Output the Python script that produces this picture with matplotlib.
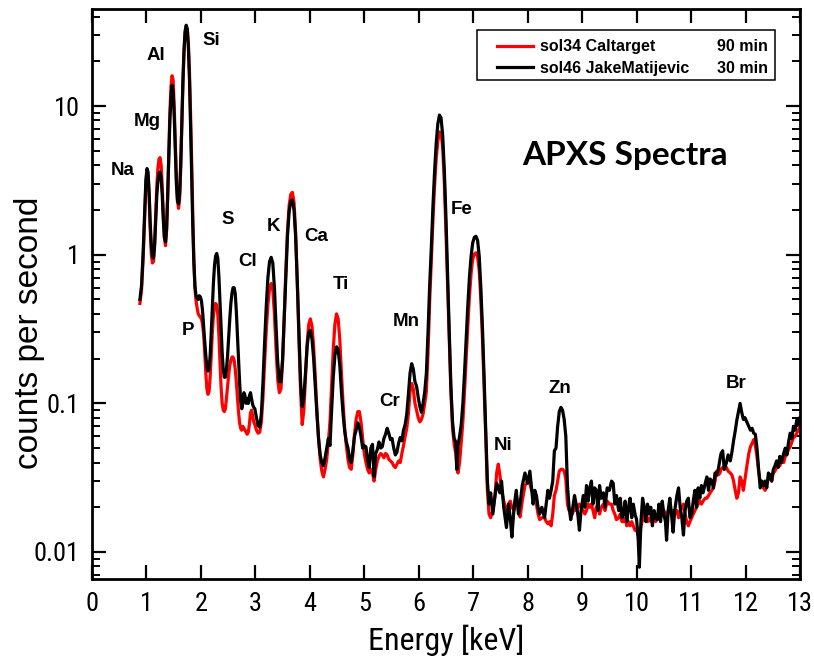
import matplotlib
matplotlib.use("Agg")
import matplotlib.pyplot as plt
from matplotlib.ticker import FixedLocator, FixedFormatter, LogLocator, NullFormatter
from matplotlib.patches import Rectangle
from matplotlib import font_manager

# spectrum channels (keV) and count rates for the two targets
energy = [
    0.88, 0.91, 0.94, 0.97, 0.99, 1.01, 1.03, 1.05, 1.07, 1.09, 1.11, 1.13, 1.15, 1.17, 1.19, 1.21,
    1.23, 1.25, 1.27, 1.29, 1.31, 1.33, 1.35, 1.37, 1.39, 1.41, 1.43, 1.45, 1.47, 1.49, 1.51, 1.53,
    1.55, 1.57, 1.59, 1.61, 1.63, 1.65, 1.67, 1.69, 1.71, 1.73, 1.75, 1.77, 1.79, 1.81, 1.83, 1.85,
    1.87, 1.89, 1.91, 1.93, 1.95, 1.97, 1.99, 2.01, 2.03, 2.05, 2.07, 2.09, 2.11, 2.13, 2.15, 2.17,
    2.19, 2.21, 2.23, 2.25, 2.27, 2.29, 2.31, 2.33, 2.35, 2.37, 2.39, 2.41, 2.43, 2.45, 2.47, 2.49,
    2.51, 2.53, 2.55, 2.57, 2.59, 2.61, 2.63, 2.65, 2.67, 2.69, 2.71, 2.73, 2.75, 2.77, 2.79, 2.81,
    2.83, 2.85, 2.87, 2.89, 2.91, 2.93, 2.95, 2.97, 2.99,
    3.02, 3.05, 3.08, 3.11, 3.14, 3.17, 3.20, 3.23, 3.26, 3.29, 3.32, 3.35, 3.38, 3.41, 3.44, 3.47,
    3.50, 3.53, 3.56, 3.59, 3.62, 3.65, 3.68, 3.71, 3.74, 3.77, 3.80, 3.83, 3.86, 3.89, 3.92, 3.95,
    3.98, 4.01, 4.04, 4.07, 4.10, 4.13, 4.16, 4.19, 4.22, 4.25, 4.28, 4.31, 4.34, 4.37, 4.40, 4.43,
    4.46, 4.49, 4.52, 4.55, 4.58, 4.61, 4.64, 4.67, 4.70, 4.73, 4.76, 4.79, 4.82, 4.85, 4.88, 4.91,
    4.94, 4.97, 5.00, 5.03, 5.06, 5.09, 5.12, 5.15, 5.18, 5.21, 5.24, 5.27, 5.30, 5.33, 5.36, 5.39,
    5.42, 5.45, 5.48, 5.51, 5.54, 5.57, 5.60, 5.63, 5.66, 5.69, 5.72, 5.75, 5.78, 5.81, 5.84, 5.87,
    5.90, 5.93, 5.96, 5.99, 6.02, 6.05, 6.08, 6.11, 6.14, 6.17, 6.20, 6.23, 6.26, 6.29, 6.32, 6.35,
    6.38, 6.41, 6.44, 6.47, 6.50, 6.53, 6.56, 6.59, 6.62, 6.65, 6.68, 6.70, 6.72, 6.75, 6.78, 6.81,
    6.84, 6.87, 6.90, 6.93, 6.96, 6.99, 7.02, 7.05, 7.08, 7.11, 7.14, 7.17, 7.20, 7.23, 7.26, 7.29,
    7.32, 7.36, 7.40, 7.43, 7.46, 7.49, 7.52, 7.56, 7.61, 7.65, 7.68, 7.71, 7.75, 7.79, 7.83, 7.86,
    7.90, 7.95, 8.00, 8.04, 8.07, 8.10, 8.13, 8.16, 8.19, 8.22, 8.26, 8.31, 8.34, 8.37, 8.40, 8.43,
    8.46, 8.49, 8.52, 8.55, 8.58, 8.61, 8.64, 8.67, 8.70, 8.73, 8.76, 8.79, 8.82, 8.86, 8.89, 8.92,
    8.95, 8.98, 9.02, 9.05, 9.08, 9.11, 9.14, 9.17, 9.20, 9.23, 9.26, 9.29, 9.32, 9.35, 9.39, 9.42,
    9.46, 9.50, 9.54, 9.57, 9.60, 9.63, 9.67, 9.70, 9.73, 9.76, 9.79, 9.82, 9.85, 9.88, 9.91, 9.94,
    9.97, 10.00, 10.03, 10.05, 10.08, 10.11, 10.14, 10.17, 10.20, 10.23, 10.26, 10.29, 10.32, 10.35,
    10.38, 10.41, 10.44, 10.47, 10.50, 10.53, 10.55, 10.58, 10.61, 10.64, 10.67, 10.70, 10.74, 10.77,
    10.80, 10.83, 10.86, 10.89, 10.92, 10.95, 10.98, 11.01, 11.04, 11.07, 11.10, 11.13, 11.16, 11.19,
    11.22, 11.26, 11.29, 11.32, 11.35, 11.38, 11.41, 11.44, 11.47, 11.50, 11.53, 11.55, 11.58, 11.61,
    11.65, 11.68, 11.72, 11.75, 11.78, 11.81, 11.84, 11.87, 11.90, 11.93, 11.96, 11.99, 12.03, 12.06,
    12.09, 12.12, 12.15, 12.18, 12.21, 12.24, 12.27, 12.30, 12.33, 12.36, 12.39, 12.42, 12.45, 12.48,
    12.51, 12.54, 12.57, 12.60, 12.63, 12.66, 12.70, 12.73, 12.76, 12.79, 12.82, 12.85, 12.88, 12.91,
    12.94, 12.97, 13.00,
]

# sol46 JakeMatijevic, 30 min
cps_jake = [
    0.50, 0.62, 1.05, 2.1, 3.2, 3.8, 3.6, 2.6, 1.6, 1.15, 0.97, 0.95, 1.15, 1.7, 2.5, 3.1,
    3.5, 3.6, 3.3, 2.5, 1.7, 1.3, 1.22, 1.5, 2.5, 4.5, 8.0, 11.5, 13.8, 12.5, 8.5, 5.0,
    3.0, 2.3, 2.2, 2.6, 4.2, 8.0, 15, 24, 32, 35, 33, 25, 15, 7.5, 3.5, 1.6,
    0.9, 0.62, 0.53, 0.51, 0.50, 0.53, 0.52, 0.49, 0.42, 0.33, 0.26, 0.21, 0.175, 0.165, 0.17, 0.21,
    0.30, 0.45, 0.65, 0.85, 0.98, 1.02, 0.95, 0.72, 0.48, 0.31, 0.22, 0.17, 0.15, 0.15, 0.17, 0.21,
    0.28, 0.37, 0.47, 0.55, 0.60, 0.60, 0.55, 0.42, 0.29, 0.20, 0.14, 0.105, 0.092, 0.10, 0.118, 0.112,
    0.10, 0.108, 0.10, 0.112, 0.118, 0.108, 0.098, 0.094, 0.092,
    0.080, 0.071, 0.069, 0.085, 0.14, 0.26, 0.45, 0.70, 0.90, 0.96, 0.88, 0.60, 0.33, 0.19, 0.14, 0.14,
    0.20, 0.38, 0.75, 1.35, 1.95, 2.30, 2.33, 2.0, 1.3, 0.65, 0.30, 0.14, 0.095, 0.11, 0.16, 0.24,
    0.30, 0.31, 0.27, 0.20, 0.13, 0.085, 0.058, 0.045, 0.040, 0.038, 0.043, 0.050, 0.058, 0.052, 0.09, 0.15,
    0.21, 0.24, 0.23, 0.18, 0.12, 0.085, 0.065, 0.055, 0.050, 0.042, 0.040, 0.048, 0.060, 0.066, 0.074, 0.069,
    0.060, 0.050, 0.052, 0.051, 0.042, 0.037, 0.050, 0.053, 0.032, 0.046, 0.049, 0.055, 0.050, 0.051, 0.058, 0.062,
    0.068, 0.063, 0.057, 0.058, 0.050, 0.045, 0.047, 0.054, 0.059, 0.056, 0.066, 0.072, 0.085, 0.115, 0.16, 0.185,
    0.17, 0.14, 0.13, 0.11, 0.095, 0.087, 0.10, 0.12, 0.16, 0.30, 0.62, 1.1, 2.1, 3.6, 5.6, 7.6,
    8.7, 8.3, 6.3, 3.7, 1.75, 0.72, 0.30, 0.13, 0.075, 0.058, 0.055, 0.036, 0.052, 0.060, 0.072, 0.10,
    0.16, 0.27, 0.45, 0.70, 0.97, 1.20, 1.31, 1.33, 1.25, 0.98, 0.60, 0.32, 0.15, 0.065, 0.030, 0.021,
    0.025, 0.018, 0.024, 0.029, 0.027, 0.025, 0.030, 0.020, 0.0146, 0.021, 0.017, 0.0126, 0.020, 0.026, 0.018, 0.021,
    0.028, 0.034, 0.029, 0.035, 0.027, 0.021, 0.026, 0.024, 0.020, 0.018, 0.020, 0.017, 0.021, 0.026, 0.023, 0.026,
    0.030, 0.048, 0.050, 0.070, 0.088, 0.094, 0.090, 0.078, 0.060, 0.028, 0.020, 0.0165, 0.019, 0.024, 0.021, 0.018,
    0.014, 0.019, 0.024, 0.020, 0.028, 0.022, 0.027, 0.030, 0.021, 0.027, 0.026, 0.019, 0.028, 0.023, 0.025, 0.020,
    0.027, 0.026, 0.030, 0.029, 0.021, 0.024, 0.019, 0.023, 0.017, 0.018, 0.022, 0.016, 0.020, 0.023, 0.017, 0.021,
    0.018, 0.0165, 0.012, 0.0079, 0.016, 0.023, 0.020, 0.016, 0.021, 0.018, 0.020, 0.015, 0.019, 0.017,
    0.0165, 0.021, 0.016, 0.022, 0.018, 0.016, 0.012, 0.019, 0.023, 0.018, 0.0136, 0.019, 0.024, 0.027,
    0.020, 0.017, 0.013, 0.019, 0.022, 0.023, 0.017, 0.018, 0.022, 0.026, 0.020, 0.027, 0.023, 0.028,
    0.025, 0.029, 0.032, 0.026, 0.031, 0.030, 0.027, 0.034, 0.033, 0.036, 0.042, 0.046, 0.048, 0.036,
    0.040, 0.045, 0.041, 0.047, 0.056, 0.065, 0.077, 0.088, 0.10, 0.087, 0.078, 0.080, 0.074, 0.070,
    0.066, 0.068, 0.063, 0.062, 0.050, 0.036, 0.027, 0.030, 0.028, 0.030, 0.027, 0.034, 0.033, 0.030,
    0.036, 0.038, 0.041, 0.037, 0.044, 0.040, 0.046, 0.050, 0.045, 0.055, 0.063, 0.058, 0.070, 0.066,
    0.077, 0.073, 0.080,
]

# sol34 Caltarget, 90 min
cps_cal = [
    0.47, 0.58, 0.95, 1.9, 3.0, 3.6, 3.4, 2.4, 1.45, 1.0, 0.88, 0.90, 1.2, 1.9, 2.9, 3.8,
    4.4, 4.5, 4.0, 2.9, 1.9, 1.3, 1.15, 1.45, 2.5, 4.9, 9.0, 13.5, 16.0, 15.0, 10.0, 5.8,
    3.3, 2.3, 2.05, 2.4, 3.9, 7.5, 14, 23, 31, 34, 33, 26, 17, 9, 4.3, 1.9,
    0.95, 0.60, 0.49, 0.44, 0.40, 0.39, 0.38, 0.37, 0.34, 0.29, 0.22, 0.16, 0.125, 0.115, 0.12, 0.15,
    0.21, 0.30, 0.39, 0.45, 0.47, 0.46, 0.40, 0.29, 0.19, 0.13, 0.10, 0.09, 0.088, 0.092, 0.11, 0.13,
    0.155, 0.18, 0.195, 0.205, 0.205, 0.195, 0.17, 0.14, 0.11, 0.088, 0.074, 0.068, 0.066, 0.070, 0.068, 0.066,
    0.064, 0.062, 0.064, 0.072, 0.086, 0.090, 0.082, 0.075, 0.072,
    0.066, 0.063, 0.064, 0.075, 0.11, 0.19, 0.31, 0.46, 0.59, 0.64, 0.58, 0.40, 0.23, 0.145, 0.118, 0.125,
    0.19, 0.38, 0.80, 1.45, 2.15, 2.55, 2.63, 2.25, 1.4, 0.65, 0.27, 0.12, 0.072, 0.09, 0.15, 0.25,
    0.34, 0.37, 0.33, 0.24, 0.15, 0.09, 0.058, 0.042, 0.035, 0.032, 0.036, 0.042, 0.055, 0.075, 0.13, 0.23,
    0.34, 0.40, 0.37, 0.27, 0.16, 0.10, 0.068, 0.052, 0.042, 0.037, 0.036, 0.045, 0.062, 0.078, 0.088, 0.088,
    0.075, 0.058, 0.046, 0.040, 0.036, 0.034, 0.036, 0.034, 0.030, 0.036, 0.041, 0.044, 0.046, 0.045, 0.043, 0.046,
    0.045, 0.042, 0.041, 0.040, 0.038, 0.037, 0.039, 0.041, 0.040, 0.046, 0.052, 0.060, 0.068, 0.085, 0.12, 0.136,
    0.125, 0.10, 0.09, 0.08, 0.075, 0.078, 0.085, 0.10, 0.12, 0.22, 0.48, 0.9, 1.7, 2.9, 4.4, 5.8,
    6.7, 6.6, 5.2, 3.0, 1.4, 0.62, 0.26, 0.12, 0.068, 0.053, 0.046, 0.036, 0.034, 0.040, 0.055, 0.075,
    0.12, 0.20, 0.33, 0.52, 0.74, 0.93, 1.01, 1.03, 0.97, 0.78, 0.50, 0.27, 0.13, 0.06, 0.026, 0.018,
    0.017, 0.019, 0.024, 0.034, 0.039, 0.033, 0.026, 0.022, 0.019, 0.021, 0.022, 0.020, 0.019, 0.024, 0.020, 0.0172,
    0.022, 0.028, 0.030, 0.029, 0.026, 0.025, 0.023, 0.021, 0.018, 0.0165, 0.017, 0.017, 0.016, 0.0155, 0.016, 0.015,
    0.018, 0.024, 0.026, 0.030, 0.035, 0.036, 0.036, 0.035, 0.031, 0.021, 0.019, 0.019, 0.018, 0.020, 0.019, 0.020,
    0.021, 0.020, 0.019, 0.018, 0.019, 0.021, 0.020, 0.021, 0.019, 0.017, 0.020, 0.021, 0.018, 0.020, 0.021, 0.019,
    0.022, 0.021, 0.021, 0.019, 0.018, 0.0165, 0.017, 0.018, 0.016, 0.016, 0.017, 0.015, 0.016, 0.015, 0.016, 0.015,
    0.014, 0.014, 0.013, 0.012, 0.015, 0.0165, 0.018, 0.017, 0.016, 0.017, 0.016, 0.017, 0.018, 0.016,
    0.017, 0.018, 0.017, 0.019, 0.019, 0.018, 0.017, 0.019, 0.019, 0.018, 0.019, 0.018, 0.019, 0.017,
    0.019, 0.020, 0.021, 0.018, 0.016, 0.015, 0.016, 0.017, 0.018, 0.019, 0.020, 0.021, 0.022, 0.021,
    0.022, 0.023, 0.023, 0.024, 0.025, 0.026, 0.027, 0.030, 0.035, 0.033, 0.034, 0.036, 0.037, 0.036,
    0.037, 0.035, 0.034, 0.033, 0.030, 0.026, 0.023, 0.025, 0.032, 0.030, 0.026, 0.031, 0.039, 0.046,
    0.051, 0.054, 0.057, 0.052, 0.044, 0.035, 0.030, 0.028, 0.027, 0.026, 0.029, 0.031, 0.032, 0.030,
    0.034, 0.035, 0.037, 0.039, 0.038, 0.041, 0.040, 0.044, 0.046, 0.049, 0.051, 0.055, 0.059, 0.060,
    0.063, 0.066, 0.070,
]

# element line labels: name, energy, cps
elements = ["Na", "Mg", "Al", "Si", "P", "S", "Cl", "K", "Ca", "Ti", "Cr", "Mn", "Fe", "Ni", "Zn", "Br"]
label_e = [0.57, 1.01, 1.18, 2.2, 1.76, 2.5, 2.85, 3.34, 4.11, 4.57, 5.47, 5.77, 6.79, 7.55, 8.59, 11.83]
label_y = [3.7, 7.9, 22, 27.8, 0.31, 1.73, 0.90, 1.56, 1.33, 0.63, 0.103, 0.356, 2.0, 0.052, 0.126, 0.136]

series_names = ["sol34 Caltarget", "sol46 JakeMatijevic"]
exposure = ["90 min", "30 min"]

xticks = list(range(0, 14))
yticks = [0.01, 0.1, 1, 10]
ytick_labels = ["0.01", "0.1", "1", "10"]


def narrow_font():
    # prefer a condensed sans face for the axis numbers and x title
    fonts = font_manager.fontManager.ttflist
    names = {f.name for f in fonts}
    for fam in ["Liberation Sans Narrow", "Roboto Condensed", "Open Sans Condensed"]:
        if fam in names:
            return {"family": fam}, True
    for f in fonts:
        if f.name == "DejaVu Sans" and "condensed" in str(f.stretch):
            return {"family": "DejaVu Sans", "stretch": "condensed"}, True
    return {"family": "Liberation Sans"}, False


nfont, is_narrow = narrow_font()
tick_size = 19 if is_narrow else 16
xlabel_size = 23 if is_narrow else 19.5

fig = plt.figure(figsize=(8.14, 6.57), dpi=100)
ax = fig.add_axes([0.113, 0.1187, 0.8698, 0.8676])

ax.plot(energy, cps_cal, color="#ff0000", lw=2.3, label=series_names[0], solid_joinstyle="round")
ax.plot(energy, cps_jake, color="black", lw=2.3, label=series_names[1], solid_joinstyle="round")

ax.set_yscale("log")
ax.set_xlim(0, 13)
ax.set_ylim(0.00658, 45)

ax.xaxis.set_major_locator(FixedLocator(xticks))
ax.yaxis.set_major_locator(FixedLocator(yticks))
ax.yaxis.set_major_formatter(FixedFormatter(ytick_labels))
ax.yaxis.set_minor_locator(LogLocator(base=10, subs=range(2, 10)))
ax.yaxis.set_minor_formatter(NullFormatter())

ax.tick_params(which="major", direction="in", length=10, width=1.6, top=True, right=True, pad=9)
ax.tick_params(which="minor", direction="in", length=5.5, width=1.4, top=True, right=True)
for lab in ax.get_xticklabels() + ax.get_yticklabels():
    lab.set_fontfamily(nfont["family"])
    if "stretch" in nfont:
        lab.set_fontstretch(nfont["stretch"])
    lab.set_fontsize(tick_size)
for sp in ax.spines.values():
    sp.set_linewidth(2)

ax.set_xlabel("Energy [keV]", fontfamily=nfont["family"], fontstretch=nfont.get("stretch", "normal"),
              fontsize=xlabel_size, va="center")
ax.xaxis.set_label_coords(0.5, -0.107)
ax.set_ylabel("counts per second", fontfamily="Liberation Sans", fontsize=24, va="center")
ax.yaxis.set_label_coords(-0.088, 0.432)

for name, ex, ey in zip(elements, label_e, label_y):
    ax.text(ex, ey, name, fontfamily="Liberation Sans", fontweight="bold", fontsize=13.5,
            ha="center", va="center")

ax.text(9.79, 4.68, "APXS Spectra", fontfamily="Lato", fontweight="bold", fontsize=24,
        ha="center", va="center")

# legend: frame drawn separately so the exposure column fits inside it
ax.add_patch(Rectangle((0.5438, 0.875), 0.4209, 0.088, transform=ax.transAxes,
                       fill=False, edgecolor="black", lw=1.1, zorder=5))
leg = ax.legend(loc="upper left", bbox_to_anchor=(0.572, 0.947), frameon=False,
                handlelength=2.25, handletextpad=0.45, labelspacing=0.42,
                borderpad=0, borderaxespad=0,
                prop={"family": "Liberation Sans", "weight": "bold", "size": 11.5})
for txt, row_y in zip(exposure, [0.935, 0.895]):
    ax.text(0.955, row_y, txt, transform=ax.transAxes, ha="right", va="center",
            fontfamily="Liberation Sans", fontweight="bold", fontsize=11.5)

fig.savefig("out.png", dpi=100)
